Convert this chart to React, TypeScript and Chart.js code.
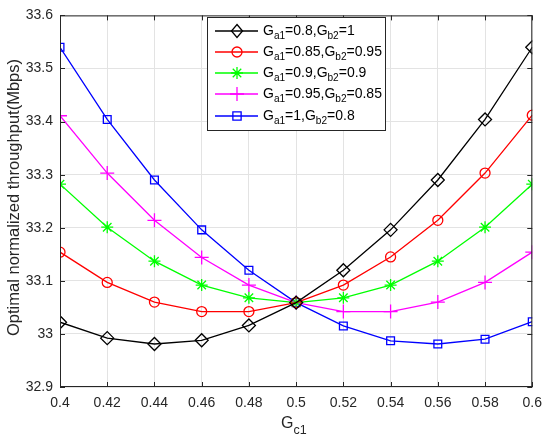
import React, { useEffect, useRef } from "react";
import { Chart, registerables } from "chart.js";
Chart.register(...registerables);

const xValues = [0.4, 0.42, 0.44, 0.46, 0.48, 0.5, 0.52, 0.54, 0.56, 0.58, 0.6];
const seriesA = [33.022, 32.992, 32.981, 32.988, 33.016, 33.059, 33.120, 33.196, 33.290, 33.404, 33.540];
const seriesB = [33.154, 33.097, 33.060, 33.042, 33.042, 33.059, 33.092, 33.145, 33.214, 33.303, 33.412];
const seriesC = [33.282, 33.201, 33.137, 33.092, 33.068, 33.059, 33.068, 33.092, 33.137, 33.201, 33.282];
const seriesD = [33.411, 33.303, 33.214, 33.144, 33.092, 33.059, 33.042, 33.042, 33.060, 33.097, 33.154];
const seriesE = [33.540, 33.404, 33.290, 33.196, 33.120, 33.059, 33.015, 32.987, 32.981, 32.990, 33.023];
const legendLabels = [
  "G_{a1}=0.8,G_{b2}=1",
  "G_{a1}=0.85,G_{b2}=0.95",
  "G_{a1}=0.9,G_{b2}=0.9",
  "G_{a1}=0.95,G_{b2}=0.85",
  "G_{a1}=1,G_{b2}=0.8",
];
const xTicks = [0.4, 0.42, 0.44, 0.46, 0.48, 0.5, 0.52, 0.54, 0.56, 0.58, 0.6];
const yTicks = [32.9, 33, 33.1, 33.2, 33.3, 33.4, 33.5, 33.6];
const xTitle = "G_{c1}";
const yTitle = "Optimal normalized throughput(Mbps)";

const FONT = "'Liberation Sans', Arial, Helvetica, sans-serif";
const colors = ["#000000", "#ff0000", "#00ff00", "#ff00ff", "#0000ff"];
const styles = ["rectRot", "circle", "star", "cross", "rect"];
const radii = [6.5, 5, 6, 7, 5.5];

function parseRich(s: string): { t: string; sub: boolean }[] {
  const out: { t: string; sub: boolean }[] = [];
  const re = /_\{([^}]*)\}/g;
  let last = 0;
  let m: RegExpExecArray | null;
  while ((m = re.exec(s))) {
    if (m.index > last) out.push({ t: s.slice(last, m.index), sub: false });
    out.push({ t: m[1], sub: true });
    last = m.index + m[0].length;
  }
  if (last < s.length) out.push({ t: s.slice(last), sub: false });
  return out;
}

function drawRich(
  ctx: CanvasRenderingContext2D,
  s: string,
  x: number,
  y: number,
  size: number,
  subRatio = 0.72,
  subOff = 0.32
) {
  ctx.textBaseline = "alphabetic";
  ctx.textAlign = "left";
  let cx = x;
  for (const p of parseRich(s)) {
    ctx.font = `${p.sub ? size * subRatio : size}px ${FONT}`;
    ctx.fillText(p.t, cx, p.sub ? y + size * subOff : y);
    cx += ctx.measureText(p.t).width;
  }
}

function drawMarker(ctx: CanvasRenderingContext2D, style: string, x: number, y: number, r: number, color: string) {
  ctx.save();
  ctx.strokeStyle = color;
  ctx.lineWidth = 1.3;
  ctx.beginPath();
  if (style === "rectRot") {
    ctx.moveTo(x, y - r);
    ctx.lineTo(x + r * 0.85, y);
    ctx.lineTo(x, y + r);
    ctx.lineTo(x - r * 0.85, y);
    ctx.closePath();
  } else if (style === "circle") {
    ctx.arc(x, y, r, 0, Math.PI * 2);
  } else if (style === "star") {
    for (let i = 0; i < 4; i++) {
      const a = (i * Math.PI) / 4;
      ctx.moveTo(x - Math.cos(a) * r, y - Math.sin(a) * r);
      ctx.lineTo(x + Math.cos(a) * r, y + Math.sin(a) * r);
    }
  } else if (style === "cross") {
    ctx.moveTo(x - r, y);
    ctx.lineTo(x + r, y);
    ctx.moveTo(x, y - r);
    ctx.lineTo(x, y + r);
  } else {
    const h = r * 0.75;
    ctx.rect(x - h, y - h, 2 * h, 2 * h);
  }
  ctx.stroke();
  ctx.restore();
}

const decorPlugin = {
  id: "decor",
  afterDatasetsDraw(chart: any) {
    const ctx: CanvasRenderingContext2D = chart.ctx;
    const { left, right, top, bottom } = chart.chartArea;
    const xs = chart.scales.x;
    const ys = chart.scales.y;
    ctx.save();
    // box + inward ticks
    ctx.strokeStyle = "#262626";
    ctx.lineWidth = 1;
    ctx.strokeRect(left + 0.5, top + 0.5, right - left - 1, bottom - top - 1);
    ctx.beginPath();
    const tl = 5;
    for (const v of xTicks) {
      const px = Math.round(xs.getPixelForValue(v)) + 0.5;
      ctx.moveTo(px, bottom);
      ctx.lineTo(px, bottom - tl);
      ctx.moveTo(px, top);
      ctx.lineTo(px, top + tl);
    }
    for (const v of yTicks) {
      const py = Math.round(ys.getPixelForValue(v)) + 0.5;
      ctx.moveTo(left, py);
      ctx.lineTo(left + tl, py);
      ctx.moveTo(right, py);
      ctx.lineTo(right - tl, py);
    }
    ctx.stroke();

    // legend
    const lx = 207, ly = 17, lw = 178, lh = 113;
    ctx.fillStyle = "#ffffff";
    ctx.fillRect(lx, ly, lw, lh);
    ctx.strokeStyle = "#262626";
    ctx.lineWidth = 1;
    ctx.strokeRect(lx + 0.5, ly + 0.5, lw, lh);
    const rowY = [31, 52, 73, 94, 116];
    legendLabels.forEach((lab, i) => {
      const y = rowY[i];
      ctx.strokeStyle = colors[i];
      ctx.lineWidth = 1.3;
      ctx.beginPath();
      ctx.moveTo(215, y);
      ctx.lineTo(258, y);
      ctx.stroke();
      drawMarker(ctx, styles[i], 237, y, radii[i], colors[i]);
      ctx.fillStyle = "#000000";
      drawRich(ctx, lab, 263, y + 4, 14);
    });

    // x title
    ctx.fillStyle = "#262626";
    drawRich(ctx, xTitle, 281, 428, 16, 0.78, 0.38);

    // y title
    ctx.save();
    ctx.translate(14, 197.5);
    ctx.rotate(-Math.PI / 2);
    ctx.font = `16.5px ${FONT}`;
    ctx.textAlign = "center";
    ctx.textBaseline = "middle";
    ctx.fillText(yTitle, 0, 0);
    ctx.restore();
    ctx.restore();
  },
};

export default function App() {
  const ref = useRef<HTMLCanvasElement | null>(null);
  useEffect(() => {
    document.body.style.margin = "0";
    const canvas = ref.current!;
    const data = [seriesA, seriesB, seriesC, seriesD, seriesE];
    const chart = new Chart(canvas, {
      type: "line",
      data: {
        datasets: data.map((s, i) => ({
          label: legendLabels[i],
          data: xValues.map((x, j) => ({ x, y: s[j] })),
          borderColor: colors[i],
          backgroundColor: "rgba(0,0,0,0)",
          pointBackgroundColor: "rgba(0,0,0,0)",
          pointBorderColor: colors[i],
          pointStyle: styles[i] as any,
          pointRadius: radii[i],
          pointBorderWidth: 1.3,
          borderWidth: 1.3,
          tension: 0,
          fill: false,
        })),
      },
      options: {
        animation: false,
        responsive: false,
        devicePixelRatio: 1,
        layout: { padding: { left: 0, right: 16, top: 12, bottom: 0 } },
        plugins: { legend: { display: false }, tooltip: { enabled: false } },
        scales: {
          x: {
            type: "linear",
            min: 0.4,
            max: 0.6,
            afterFit: (s: any) => { s.height = 55; },
            afterBuildTicks: (s: any) => { s.ticks = xTicks.map((v) => ({ value: v })); },
            ticks: {
              color: "#262626",
              font: { family: FONT, size: 14 },
              padding: 8,
              maxRotation: 0,
              autoSkip: false,
              callback: (v: any) => String(Number(Number(v).toFixed(2))),
            },
            grid: { color: "#e3e3e3", drawTicks: false, lineWidth: 1 },
            border: { display: false },
          },
          y: {
            type: "linear",
            min: 32.9,
            max: 33.6,
            afterFit: (s: any) => { s.width = 60; },
            afterBuildTicks: (s: any) => { s.ticks = yTicks.map((v) => ({ value: v })); },
            ticks: {
              color: "#262626",
              font: { family: FONT, size: 14 },
              padding: 7,
              autoSkip: false,
              callback: (v: any) => String(Number(Number(v).toFixed(1))),
            },
            grid: { color: "#e3e3e3", drawTicks: false, lineWidth: 1 },
            border: { display: false },
          },
        },
      },
      plugins: [decorPlugin],
    });
    return () => chart.destroy();
  }, []);
  return (
    <div style={{ position: "absolute", left: 0, top: 0, width: 550, height: 442, background: "#fff" }}>
      <canvas ref={ref} width={550} height={442} />
    </div>
  );
}
